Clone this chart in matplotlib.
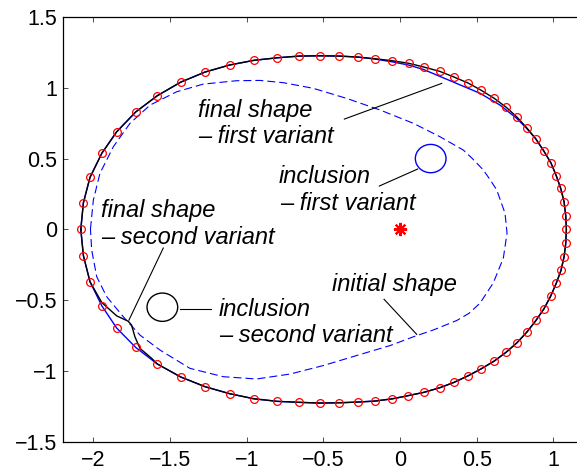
import matplotlib
matplotlib.use("Agg")
import matplotlib.pyplot as plt
from matplotlib.patches import Ellipse

# ---------------- data ----------------
# reference (red circles) outline, clockwise from the leftmost point
ref_x = [-2.082, -2.065, -2.022, -1.945, -1.848, -1.724, -1.583, -1.430, -1.272, -1.111,
         -0.952, -0.800, -0.657, -0.524, -0.396, -0.276, -0.163, -0.050, 0.057, 0.157,
         0.259, 0.352, 0.445, 0.530, 0.615, 0.693, 0.763, 0.826, 0.885, 0.937,
         0.985, 1.019, 1.048, 1.070, 1.081, 1.085,
         1.081, 1.070, 1.050, 1.019, 0.983, 0.939, 0.887, 0.828, 0.763, 0.691,
         0.615, 0.530, 0.445, 0.352, 0.259, 0.157, 0.052, -0.050, -0.163, -0.276,
         -0.396, -0.524, -0.657, -0.800, -0.952, -1.111, -1.270, -1.430, -1.583, -1.724,
         -1.848, -1.945, -2.022, -2.065]
ref_y = [0.000, 0.188, 0.367, 0.537, 0.689, 0.829, 0.944, 1.040, 1.111, 1.161,
         1.194, 1.212, 1.224, 1.226, 1.224, 1.217, 1.205, 1.191, 1.173, 1.146,
         1.116, 1.076, 1.033, 0.982, 0.925, 0.862, 0.793, 0.718, 0.640, 0.555,
         0.468, 0.379, 0.290, 0.195, 0.096, 0.000,
         -0.099, -0.194, -0.290, -0.381, -0.471, -0.561, -0.643, -0.725, -0.801, -0.869,
         -0.930, -0.985, -1.034, -1.081, -1.119, -1.151, -1.175, -1.197, -1.213, -1.220,
         -1.225, -1.227, -1.222, -1.215, -1.197, -1.161, -1.112, -1.043, -0.951, -0.834,
         -0.697, -0.540, -0.370, -0.186]

# final shape - first variant (blue solid)
first_x = [-2.082, -2.065, -2.022, -1.945, -1.848, -1.724, -1.583, -1.430, -1.272, -1.111,
           -0.952, -0.800, -0.657, -0.524, -0.396, -0.276, -0.163, -0.050, 0.054, 0.152,
           0.305, 0.522, 0.652, 0.761, 0.826, 0.885, 0.937,
           0.985, 1.019, 1.048, 1.070, 1.081, 1.085,
           1.081, 1.070, 1.050, 1.019, 0.983, 0.939, 0.887, 0.828, 0.763, 0.691,
           0.615, 0.530, 0.445, 0.352, 0.259, 0.157, 0.052, -0.050, -0.163, -0.276,
           -0.396, -0.524, -0.657, -0.800, -0.952, -1.111, -1.270, -1.430, -1.583, -1.724,
           -1.848, -1.945, -2.022, -2.065, -2.082]
first_y = [0.000, 0.188, 0.367, 0.537, 0.689, 0.829, 0.944, 1.040, 1.111, 1.161,
           1.194, 1.212, 1.224, 1.226, 1.224, 1.217, 1.203, 1.183, 1.161, 1.130,
           1.060, 0.961, 0.878, 0.784, 0.713, 0.640, 0.555,
           0.468, 0.379, 0.290, 0.195, 0.096, 0.000,
           -0.099, -0.194, -0.290, -0.381, -0.471, -0.561, -0.643, -0.725, -0.801, -0.869,
           -0.930, -0.985, -1.034, -1.081, -1.119, -1.151, -1.175, -1.197, -1.213, -1.220,
           -1.225, -1.227, -1.222, -1.215, -1.197, -1.161, -1.112, -1.043, -0.951, -0.834,
           -0.697, -0.540, -0.370, -0.186, 0.000]

# final shape - second variant (black solid)
second_x = [-2.082, -2.065, -2.022, -1.945, -1.848, -1.724, -1.583, -1.430, -1.272, -1.111,
            -0.952, -0.800, -0.657, -0.524, -0.396, -0.276, -0.163, -0.050, 0.057, 0.157,
            0.259, 0.352, 0.445, 0.530, 0.615, 0.693, 0.763, 0.826, 0.885, 0.937,
            0.985, 1.019, 1.048, 1.070, 1.081, 1.085,
            1.081, 1.070, 1.050, 1.019, 0.983, 0.939, 0.887, 0.828, 0.763, 0.691,
            0.615, 0.530, 0.445, 0.352, 0.259, 0.157, 0.052, -0.050, -0.163, -0.276,
            -0.396, -0.524, -0.657, -0.800, -0.952, -1.111, -1.270, -1.430, -1.583, -1.620,
            -1.696, -1.729, -1.751, -1.773, -1.848, -1.945, -2.022, -2.065, -2.082]
second_y = [0.000, 0.188, 0.367, 0.537, 0.689, 0.829, 0.944, 1.040, 1.111, 1.161,
            1.194, 1.212, 1.224, 1.226, 1.224, 1.217, 1.205, 1.191, 1.173, 1.146,
            1.116, 1.076, 1.033, 0.982, 0.925, 0.862, 0.793, 0.718, 0.640, 0.555,
            0.468, 0.379, 0.290, 0.195, 0.096, 0.000,
            -0.099, -0.194, -0.290, -0.381, -0.471, -0.561, -0.643, -0.725, -0.801, -0.869,
            -0.930, -0.985, -1.034, -1.081, -1.119, -1.151, -1.175, -1.197, -1.213, -1.220,
            -1.225, -1.227, -1.222, -1.215, -1.197, -1.161, -1.112, -1.043, -0.951, -0.911,
            -0.841, -0.759, -0.676, -0.649, -0.611, -0.517, -0.370, -0.186, 0.000]

# initial shape (blue dashed)
init_x = [-2.019, -2.000, -1.957, -1.870, -1.761, -1.630, -1.456, -1.283, -1.065, -0.913,
          -0.761, -0.565, -0.348, -0.130, 0.087, 0.261, 0.413, 0.470, 0.543, 0.588, 0.631,
          0.685, 0.698, 0.674, 0.608, 0.522, 0.450, 0.370, 0.217, 0.087, -0.065, -0.282,
          -0.500, -0.717, -0.935, -1.152, -1.370, -1.565, -1.696, -1.805, -1.913, -1.978,
          -2.011, -2.019]
init_y = [0.002, 0.207, 0.396, 0.583, 0.749, 0.878, 0.972, 1.026, 1.050, 1.052,
          1.036, 0.996, 0.925, 0.843, 0.749, 0.654, 0.560, 0.502, 0.420, 0.350, 0.278,
          0.113, -0.026, -0.203, -0.379, -0.521, -0.593, -0.644, -0.711, -0.759, -0.821,
          -0.891, -0.962, -1.022, -1.057, -1.041, -0.982, -0.853, -0.747, -0.617, -0.476,
          -0.335, -0.146, 0.002]

# inclusions: centre x, centre y, radius
incl1 = (0.20, 0.50, 0.10)
incl2 = (-1.55, -0.55, 0.10)
centre = (0.0, 0.0)

# annotation texts (line1, line2), positions and leader lines
labels = [
    ("final shape", "\u2013 first variant", (-1.315, 0.795), (-1.315, 0.607)),
    ("final shape", "\u2013 second variant", (-1.952, 0.089), (-1.952, -0.102)),
    ("inclusion", "\u2013 first variant", (-0.794, 0.325), (-0.783, 0.136)),
    ("initial shape", None, (-0.445, -0.434), None),
    ("inclusion", "\u2013 second variant", (-1.185, -0.610), (-1.178, -0.794)),
]
leaders = [
    ([-0.363, 0.272], [0.779, 1.031]),
    ([-1.544, -1.768], [-0.132, -0.641]),
    ([-0.135, 0.115], [0.306, 0.426]),
    ([-0.104, 0.109], [-0.494, -0.742]),
    ([-1.435, -1.235], [-0.563, -0.563]),
]

xticks = [-2, -1.5, -1, -0.5, 0, 0.5, 1]
yticks = [-1.5, -1, -0.5, 0, 0.5, 1, 1.5]

# ---------------- plot ----------------
plt.rcParams['font.family'] = ['Liberation Sans', 'DejaVu Sans']
plt.rcParams['axes.unicode_minus'] = True

fig = plt.figure(figsize=(5.77, 4.75), dpi=100)
W, H = 577.0, 475.0
ax = fig.add_axes([62.7 / W, 33.3 / H, (584.0 - 62.7) / W, 424.7 / H])

ax.plot(init_x, init_y, color='#0000ff', lw=0.8, dashes=(7.2, 3.6))
ax.plot(first_x, first_y, color='#0000ff', lw=1.0)
ax.plot(second_x, second_y, color='black', lw=1.0)
ax.plot(ref_x, ref_y, ls='none', marker='o', ms=5.6, mfc='none', mec='#ff0000', mew=0.9)

for (cx, cy, r), col in [(incl1, '#0000ff'), (incl2, 'black')]:
    ax.add_patch(Ellipse((cx, cy), 2 * r, 2 * r, fill=False, ec=col, lw=1.0))

ax.plot([centre[0]], [centre[1]], ls='none', marker=(8, 2, 0), ms=9.5, mec='#ff0000',
        mfc='#ff0000', mew=1.5)

for lx, ly in leaders:
    ax.plot(lx, ly, color='black', lw=0.8)

for t1, t2, p1, p2 in labels:
    ax.text(p1[0], p1[1], t1, fontsize=17, style='italic', ha='left', va='baseline')
    if t2:
        ax.text(p2[0], p2[1], t2, fontsize=17, style='italic', ha='left', va='baseline')

ax.set_xlim(-2.2, 1.2)
ax.set_ylim(-1.5, 1.5)
ax.set_xticks(xticks)
ax.set_yticks(yticks)
ax.set_xticklabels(['\u22122', '\u22121.5', '\u22121', '\u22120.5', '0', '0.5', '1'])
ax.set_yticklabels(['\u22121.5', '\u22121', '\u22120.5', '0', '0.5', '1', '1.5'])
ax.tick_params(direction='in', length=3.6, width=0.6, top=True, right=True,
               labelsize=15.5, color='#333333')
ax.tick_params(axis='x', pad=6)
ax.tick_params(axis='y', pad=4)
for s in ax.spines.values():
    s.set_linewidth(0.9)
    s.set_color('black')

fig.savefig('out.png', dpi=100)
